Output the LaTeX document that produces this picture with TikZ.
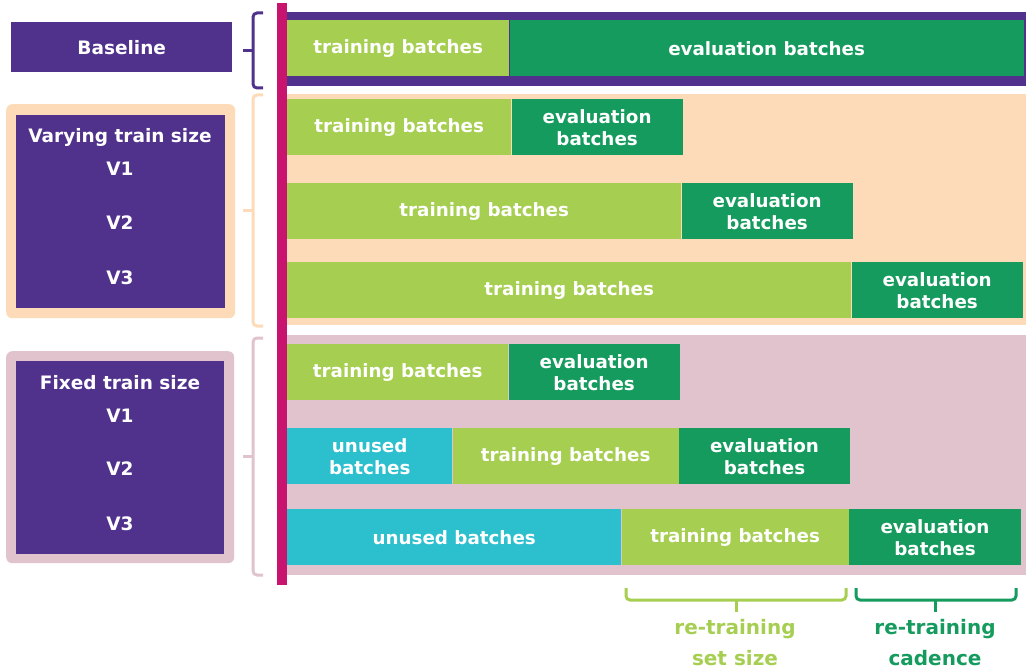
\documentclass[tikz,border=0pt]{standalone}
\usepackage{fontspec}
\setmainfont{DejaVu Sans}
\usetikzlibrary{positioning}
\definecolor{basepurple}{RGB}{80,50,140}
\definecolor{axismagenta}{RGB}{200,20,110}
\definecolor{traingreen}{RGB}{166,206,80}
\definecolor{evalgreen}{RGB}{22,155,94}
\definecolor{unusedcyan}{RGB}{44,191,206}
\definecolor{varypeach}{RGB}{253,219,184}
\definecolor{fixedpink}{RGB}{225,195,205}
\newcommand{\evalbatches}{evaluation\\batches}

\begin{document}
\begin{tikzpicture}[x=1pt, y=-1pt]
\tikzstyle{bar}=[rectangle, minimum height=56pt, inner sep=0pt, text=white, align=center, font=\fontsize{18.3}{22}\selectfont\bfseries]
\tikzstyle{train}=[bar, fill=traingreen]
\tikzstyle{eval}=[bar, fill=evalgreen]
\tikzstyle{unused}=[bar, fill=unusedcyan]
\tikzstyle{panel}=[rectangle, rounded corners=6pt, inner sep=0pt]
\tikzstyle{label}=[text=white, font=\fontsize{18.5}{22}\selectfont\bfseries]
\tikzstyle{brace}=[line width=3pt, rounded corners=4pt]
\tikzstyle{note}=[align=center, font=\fontsize{20}{31}\selectfont\bfseries]

  \useasboundingbox (0,0) rectangle (1026,671);

  % backgrounds of the groups
  \fill[basepurple] (287,12) rectangle (1026,86);
  \fill[varypeach]  (287,94) rectangle (1026,325);
  \fill[fixedpink]  (287,335) rectangle (1026,575);

  % left panels
  \node[panel, fill=basepurple, rounded corners=0pt, minimum width=221pt, minimum height=50pt, anchor=north west] (baseline) at (11,22) {};
  \node[label] at (baseline.center) {Baseline};

  \node[panel, fill=varypeach, minimum width=229pt, minimum height=214pt, anchor=north west] (varyouter) at (6,104) {};
  \node[panel, fill=basepurple, rounded corners=0pt, minimum width=209pt, minimum height=193pt] (vary) at (varyouter.center) {};
  \node[label] (varytitle) at (120,137) {Varying train size};
  \node[label] (varyone)   at (120,169) {V1};
  \node[label] (varytwo)   at (120,223) {V2};
  \node[label] (varythree) at (120,278) {V3};

  \node[panel, fill=fixedpink, minimum width=228pt, minimum height=212pt, anchor=north west] (fixedouter) at (6,351) {};
  \node[panel, fill=basepurple, rounded corners=0pt, minimum width=208pt, minimum height=193pt] (fixed) at (fixedouter.center) {};
  \node[label] (fixedtitle) at (120,383) {Fixed train size};
  \node[label] (fixedone)   at (120,416) {V1};
  \node[label] (fixedtwo)   at (120,469) {V2};
  \node[label] (fixedthree) at (120,524) {V3};

  % baseline row
  \node[train, minimum width=222pt, anchor=north west] (basetrain) at (287,20) {training batches};
  \node[eval,  minimum width=514pt] (baseeval) [right=0pt of basetrain] {evaluation batches};

  % varying train size rows
  \node[train, minimum width=224pt, anchor=north west] (vonetrain) at (287,99) {training batches};
  \node[eval,  minimum width=171pt] (voneeval) [right=0pt of vonetrain] {\evalbatches};
  \node[train, minimum width=394pt, anchor=north west] (vtwotrain) at (287,183) {training batches};
  \node[eval,  minimum width=171pt] (vtwoeval) [right=0pt of vtwotrain] {\evalbatches};
  \node[train, minimum width=564pt, anchor=north west] (vthreetrain) at (287,262) {training batches};
  \node[eval,  minimum width=171pt] (vthreeeval) [right=0pt of vthreetrain] {\evalbatches};

  % fixed train size rows
  \node[train, minimum width=221pt, anchor=north west] (fonetrain) at (287,344) {training batches};
  \node[eval,  minimum width=171pt] (foneeval) [right=0pt of fonetrain] {\evalbatches};
  \node[unused, minimum width=165pt, anchor=north west] (ftwounused) at (287,428) {unused\\batches};
  \node[train, minimum width=226pt] (ftwotrain) [right=0pt of ftwounused] {training batches};
  \node[eval,  minimum width=171pt] (ftwoeval) [right=0pt of ftwotrain] {\evalbatches};
  \node[unused, minimum width=334pt, anchor=north west] (fthreeunused) at (287,509) {unused batches};
  \node[train, minimum width=227pt] (fthreetrain) [right=0pt of fthreeunused] {training batches};
  \node[eval,  minimum width=172pt] (fthreeeval) [right=0pt of fthreetrain] {\evalbatches};

  % braces between panels and rows
  \draw[brace, basepurple] (263,13) -| (253,88) -- (263,88);
  \draw[brace, basepurple] (253,51) -- (243,51);
  \draw[brace, varypeach] (263,95) -| (253,326) -- (263,326);
  \draw[brace, varypeach] (253,211) -- (243,211);
  \draw[brace, fixedpink] (263,338) -| (253,575) -- (263,575);
  \draw[brace, fixedpink] (253,456) -- (243,456);

  % time axis
  \fill[axismagenta] (277,3) rectangle (287,585);

  % bottom braces
  \draw[brace, traingreen] (626,588) |- (846,600) -- (846,588);
  \draw[brace, traingreen] (736,600) -- (736,612);
  \draw[brace, evalgreen] (856,588) |- (1016,600) -- (1016,588);
  \draw[brace, evalgreen] (935,600) -- (935,612);
  \node[note, text=traingreen] (setsize) at (735,643) {re-training\\set size};
  \node[note, text=evalgreen]  (cadence) at (935,643) {re-training\\cadence};
\end{tikzpicture}
\end{document}
